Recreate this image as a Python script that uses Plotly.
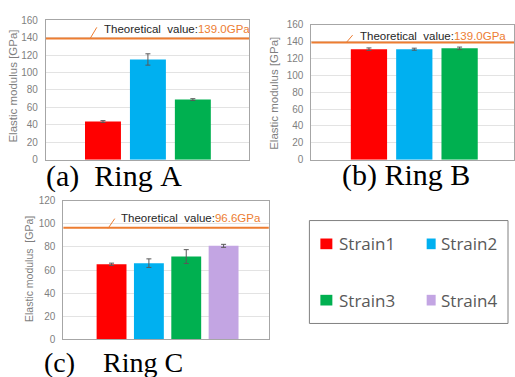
import plotly.graph_objects as go

W, H = 515, 377

strains = ["Strain1", "Strain2", "Strain3", "Strain4"]
strain_colors = ["#FF0000", "#00B0F0", "#00B050", "#C3A5E3"]

ring_a_values = [43.8, 115.0, 69.0]
ring_a_errors = [1.0, 6.5, 1.0]
ring_b_values = [131.0, 131.0, 132.0]
ring_b_errors = [1.5, 1.2, 1.5]
ring_c_values = [65.0, 66.0, 71.7, 81.0]
ring_c_errors = [1.0, 3.7, 6.0, 1.3]

theoretical_a = 139.0
theoretical_b = 139.0
theoretical_c = 96.6

captions = ["(a)\u00a0\u00a0Ring\u00a0A", "(b)\u00a0Ring\u00a0B", "(c)\u00a0\u00a0\u00a0\u00a0Ring\u00a0C"]
y_title = "Elastic modulus [GPa]"
y_title_c = "Elastic modulus\u00a0\u00a0[GPa]"

ORANGE = "#ED7D31"
AXIS = "#A6A6A6"
GRID = "#E3E3E3"
TICK = "#7F7F7F"


def px_x(p):
    return p / W


def px_y(p):
    return 1 - p / H


fig = go.Figure()

panels = [
    ("x", "y", ring_a_values, ring_a_errors),
    ("x2", "y2", ring_b_values, ring_b_errors),
    ("x3", "y3", ring_c_values, ring_c_errors),
]
for xa, ya, vals, errs in panels:
    n = len(vals)
    fig.add_trace(go.Bar(
        x=[i + 1 for i in range(n)], y=vals,
        marker=dict(color=strain_colors[:n], line=dict(width=0)),
        error_y=dict(type="data", array=errs, color="#595959", thickness=1, width=2.5),
        xaxis=xa, yaxis=ya, showlegend=False, hoverinfo="skip",
    ))

common_x = dict(showticklabels=False, ticks="", showgrid=False, zeroline=False,
                showline=True, linecolor=AXIS, linewidth=1, mirror=True, fixedrange=True)
common_y = dict(ticks="", showgrid=True, gridcolor=GRID, gridwidth=1, zeroline=False,
                showline=True, linecolor=AXIS, linewidth=1, mirror=True,
                tickfont=dict(family="Liberation Sans", size=10, color=TICK),
                ticklabelstandoff=5, dtick=20)

fig.update_layout(
    width=W, height=H, margin=dict(l=0, r=0, t=0, b=0),
    paper_bgcolor="white", plot_bgcolor="white", bargap=0.2, showlegend=False,
    xaxis=dict(domain=[px_x(46), px_x(249.5)], range=[-0.27, 4.25], anchor="y", **common_x),
    yaxis=dict(domain=[px_y(158.3), px_y(14.7)], range=[0, 160], anchor="x", **common_y),
    xaxis2=dict(domain=[px_x(312), 1.0], range=[-0.27, 4.2], anchor="y2", **common_x),
    yaxis2=dict(domain=[px_y(158.3), px_y(19.3)], range=[0, 160], anchor="x2", **common_y),
    xaxis3=dict(domain=[px_x(63.5), px_x(269.3)], range=[-0.29, 5.21], anchor="y3", **common_x),
    yaxis3=dict(domain=[px_y(343.3), px_y(200.7)], range=[0, 120], anchor="x3", **common_y),
)

# theoretical value lines
for xr, yr, val in [("x", "y", theoretical_a), ("x2", "y2", theoretical_b), ("x3", "y3", theoretical_c)]:
    fig.add_shape(type="line", xref=f"{xr} domain", yref=yr, x0=0, x1=1, y0=val, y1=val,
                  line=dict(color=ORANGE, width=2), layer="above")

# leader lines
for (x0, y0, x1, y1) in [(90, 34, 97, 22), (346.7, 38, 353.3, 30), (108.3, 229, 115, 219)]:
    fig.add_shape(type="line", xref="paper", yref="paper",
                  x0=px_x(x0), y0=px_y(y0), x1=px_x(x1), y1=px_y(y1),
                  line=dict(color=ORANGE, width=1))

ann = []
for x, y, val in [(102, 24, theoretical_a), (359, 31, theoretical_b), (119, 218, theoretical_c)]:
    ann.append(dict(
        x=px_x(x), y=px_y(y), xref="paper", yref="paper", xanchor="left", yanchor="middle",
        text=f"Theoretical\u00a0\u00a0value:<span style='color:{ORANGE}'>{val:.1f}GPa</span>",
        showarrow=False, font=dict(family="Liberation Sans", size=11.5, color="#262626"),
    ))

# y-axis titles
for x, y, t, s in [(13, 82, y_title, 11.5), (275, 90, y_title, 11.5), (29, 271, y_title_c, 10.5)]:
    ann.append(dict(x=px_x(x), y=px_y(y), xref="paper", yref="paper", xanchor="center",
                    yanchor="middle", textangle=-90, text=t, showarrow=False,
                    font=dict(family="Liberation Sans", size=s, color=TICK)))

# captions
for x, y, t, s in [(44, 175, captions[0], 30), (341, 174, captions[1], 30), (42, 367, captions[2], 28)]:
    ann.append(dict(x=px_x(x), y=px_y(y), xref="paper", yref="paper", xanchor="left",
                    yanchor="middle", text=t, showarrow=False,
                    font=dict(family="Liberation Serif", size=s, color="#000000")))

# legend box
fig.add_shape(type="rect", xref="paper", yref="paper",
              x0=px_x(310), x1=px_x(509), y0=px_y(327), y1=px_y(221),
              line=dict(color="#808080", width=1), fillcolor="white")
legend_pos = [(321, 12, 338, 245), (427.5, 9, 440, 245), (321, 12, 338, 303), (427.5, 9, 440, 303)]
for name, col, (sx, sw, tx, ty) in zip(strains, strain_colors, legend_pos):
    fig.add_shape(type="rect", xref="paper", yref="paper",
                  x0=px_x(sx), x1=px_x(sx + sw), y0=px_y(ty + 5.5), y1=px_y(ty - 5.5),
                  line=dict(width=0), fillcolor=col)
    ann.append(dict(x=px_x(tx), y=px_y(ty), xref="paper", yref="paper", xanchor="left",
                    yanchor="middle", text=name, showarrow=False,
                    font=dict(family="Open Sans", size=17, color="#595959")))

fig.update_layout(annotations=ann)
fig.write_html("out.html", config={"displayModeBar": False, "staticPlot": True},
               post_script="document.body.style.margin='0';document.body.style.padding='0';"
                           "document.body.style.overflow='hidden';")
